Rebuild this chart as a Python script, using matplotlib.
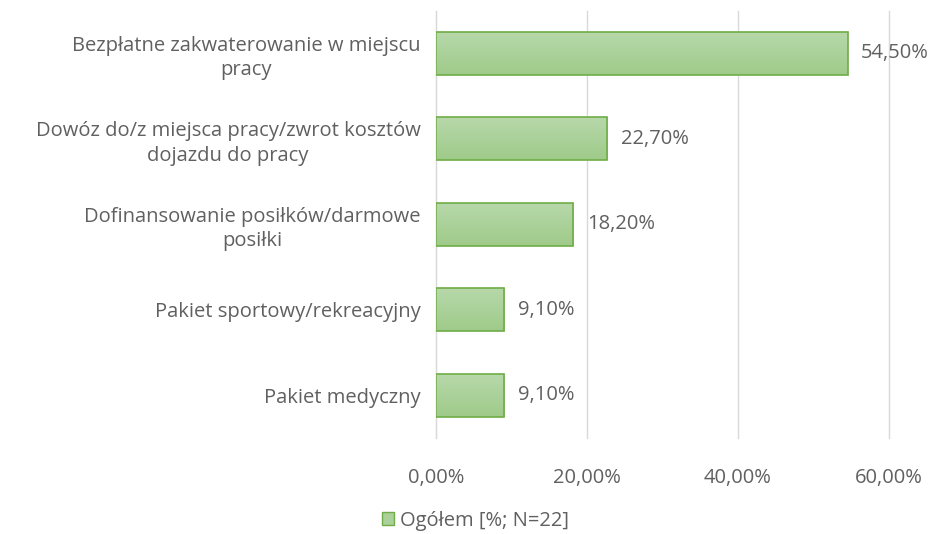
import numpy as np
import matplotlib.pyplot as plt
from matplotlib.patches import Patch
from matplotlib.colors import LinearSegmentedColormap

# dane
kategorie = [
    "Bezpłatne zakwaterowanie w miejscu\npracy",
    "Dowóz do/z miejsca pracy/zwrot kosztów\ndojazdu do pracy",
    "Dofinansowanie posiłków/darmowe\nposiłki",
    "Pakiet sportowy/rekreacyjny",
    "Pakiet medyczny",
]
wartosci = [54.5, 22.7, 18.2, 9.1, 9.1]
etykiety = ["54,50%", "22,70%", "18,20%", "9,10%", "9,10%"]
ticki = [0, 20, 40, 60]
tick_etykiety = ["0,00%", "20,00%", "40,00%", "60,00%"]
legenda = "Ogółem [%; N=22]"

SZARY = "#606060"
KRAWEDZ = "#70ad47"
gradient = LinearSegmentedColormap.from_list("g", ["#b7d8aa", "#9fcb8a"])
FS = 14.5

plt.rcParams["font.family"] = ["Open Sans", "DejaVu Sans"]

fig = plt.figure(figsize=(9.33, 5.34), dpi=100)
ax = fig.add_axes([0.467, 0.18, 0.486, 0.80])

y = np.arange(len(kategorie))
bars = ax.barh(y, wartosci, height=0.5, color="none", edgecolor=KRAWEDZ,
               linewidth=1.2, zorder=3)

# gradient w słupkach
grad = np.linspace(0, 1, 100).reshape(-1, 1)
for b in bars:
    x0, y0 = b.get_x(), b.get_y()
    w, h = b.get_width(), b.get_height()
    im = ax.imshow(grad, cmap=gradient, aspect="auto", zorder=2,
                   extent=[x0, x0 + w, y0 + h, y0], origin="upper")
    im.set_clip_path(b)

for v, yy, t in zip(wartosci, y, etykiety):
    ax.text(v + 1.8, yy, t, va="center", ha="left", fontsize=FS, color=SZARY)

ax.set_xlim(0, 60)
ax.set_ylim(len(kategorie) - 0.5, -0.5)
ax.set_xticks(ticki)
ax.set_xticklabels(tick_etykiety, fontsize=FS, color=SZARY)
ax.set_yticks(y)
ax.set_yticklabels(kategorie, fontsize=FS, color=SZARY, ha="right",
                   multialignment="center", linespacing=1.3)
ax.tick_params(axis="y", length=0, pad=11)
ax.tick_params(axis="x", length=0, pad=22)
ax.grid(axis="x", color="#d9d9d9", linewidth=1, zorder=0, clip_on=False)
for s in ["top", "right", "bottom"]:
    ax.spines[s].set_visible(False)
ax.spines["left"].set_color("#d9d9d9")

fig.legend(handles=[Patch(facecolor="#abd19b", edgecolor=KRAWEDZ, label=legenda)],
           loc="center", bbox_to_anchor=(0.51, 0.025), frameon=False,
           fontsize=FS, labelcolor=SZARY, handlelength=0.6, handleheight=0.6,
           handletextpad=0.3)

fig.savefig("out.png", dpi=100)
